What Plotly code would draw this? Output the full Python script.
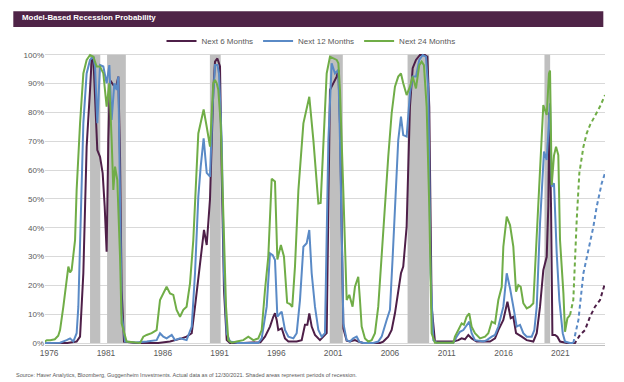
import plotly.graph_objects as go

# ---------------- DATA ----------------
rec_start = [1980.0, 1981.5, 1990.55, 2001.1, 2007.95, 2020.0]
rec_end = [1980.9, 1983.15, 1991.5, 2002.25, 2009.85, 2020.5]

tick_years = [1976, 1981, 1986, 1991, 1996, 2001, 2006, 2011, 2016, 2021]
y_ticks = [0, 10, 20, 30, 40, 50, 60, 70, 80, 90, 100]

m6_x = [1976.0, 1977.0, 1978.0, 1978.82, 1979.12, 1979.41, 1979.70, 1980.00, 1980.14, 1980.29,
        1980.44, 1980.64, 1980.88, 1981.11, 1981.29, 1981.46, 1981.61, 1981.76, 1982.05, 1982.29,
        1982.49, 1982.64, 1982.78, 1982.99, 1984.0, 1985.0, 1986.0, 1987.04, 1987.62, 1988.06,
        1988.50, 1988.95, 1989.24, 1989.53, 1989.83, 1990.03, 1990.27, 1990.56, 1990.85, 1991.00,
        1991.21, 1991.44, 1991.59, 1991.79, 1992.03, 1992.32, 1993.5, 1995.0, 1995.40, 1995.84,
        1996.13, 1996.28, 1996.43, 1996.57, 1996.87, 1997.16, 1997.46, 1998.19, 1998.63, 1998.92,
        1999.13, 1999.30, 1999.51, 1999.80, 2000.24, 2000.83, 2001.12, 2001.42, 2001.71, 2001.86,
        2002.00, 2002.30, 2002.59, 2002.88, 2003.32, 2003.61, 2004.05, 2005.52, 2005.81, 2006.25,
        2006.55, 2006.84, 2007.13, 2007.37, 2007.57, 2007.87, 2008.16, 2008.40, 2008.69, 2009.04,
        2009.48, 2009.69, 2009.86, 2010.07, 2010.36, 2011.98, 2012.42, 2012.71, 2013.00, 2013.30,
        2013.59, 2014.03, 2015.21, 2015.65, 2015.94, 2016.38, 2016.74, 2017.03, 2017.26, 2017.50,
        2018.00, 2018.44, 2019.02, 2019.32, 2019.61, 2019.90, 2020.20, 2020.34, 2020.43, 2020.58,
        2020.70, 2020.93, 2021.14, 2021.37, 2021.96, 2022.54]
m6_y = [0, 0, 0, 0.5, 2.2, 24.2, 68.1, 87.8, 98.2, 99.3,
        85.4, 66.9, 64.6, 58.9, 47.3, 31.7, 70.4, 91.2, 89.5, 88.9,
        92.4, 64.6, 18.4, 0.5, 0, 0, 0, 0.5, 1.0, 1.6,
        2.2, 3.4, 12.6, 21.9, 31.1, 39.2, 34.0, 50.0, 87.8, 97.6,
        98.7, 95.9, 58.9, 18.4, 1.0, 0, 0, 0.3, 2.2, 5.7,
        9.1, 10.3, 8.0, 4.5, 5.1, 1.6, 0.5, 0.5, 1.0, 6.3,
        6.3, 10.3, 5.7, 2.8, 1.0, 3.4, 87.8, 90.1, 92.4, 94.7,
        76.2, 5.0, 0.8, 0.5, 1.0, 0.5, 0, 0, 0.5, 2.2,
        4.5, 10.3, 18.4, 24.2, 26.5, 40.4, 82.0, 95.3, 98.2, 99.9,
        99.9, 99.3, 82.0, 12.6, 0.5, 0.5, 1.0, 1.6, 1.3, 2.8,
        1.6, 0.5, 0.5, 1.6, 4.5, 8.0, 14.3, 8.6, 9.1, 3.4,
        2.2, 1.0, 0.5, 3.4, 12.6, 25.3, 29.9, 47.3, 80.0, 47.3,
        2.8, 2.8, 2.2, 0.5, 0, 0]
m6_fc_x = [2022.54, 2022.69, 2023.13, 2023.57, 2024.01, 2024.45, 2024.89, 2025.33]
m6_fc_y = [0, 0, 2.8, 4.5, 9.1, 12.6, 14.9, 20.7]

m12_x = [1976.0, 1977.0, 1977.36, 1977.94, 1978.24, 1978.53, 1978.82, 1978.97, 1979.12, 1979.41,
         1979.70, 1980.00, 1980.29, 1980.44, 1980.64, 1980.88, 1981.17, 1981.46, 1981.70, 1981.90,
         1982.14, 1982.34, 1982.49, 1982.64, 1982.78, 1983.08, 1984.0, 1985.0, 1985.86, 1986.16,
         1986.45, 1986.74, 1987.19, 1987.48, 1987.92, 1988.50, 1988.95, 1989.24, 1989.53, 1989.74,
         1990.00, 1990.27, 1990.56, 1990.79, 1991.00, 1991.21, 1991.35, 1991.59, 1991.79, 1992.03,
         1992.32, 1993.0, 1994.8, 1995.11, 1995.55, 1995.84, 1996.08, 1996.28, 1996.49, 1996.72,
         1996.87, 1997.16, 1997.46, 1997.90, 1998.19, 1998.48, 1998.78, 1999.07, 1999.30, 1999.51,
         1999.80, 2000.10, 2000.39, 2000.68, 2000.98, 2001.27, 2001.56, 2001.86, 2002.00, 2002.30,
         2002.59, 2002.88, 2003.17, 2003.47, 2003.70, 2004.05, 2004.93, 2005.37, 2005.67, 2006.11,
         2006.40, 2006.64, 2006.93, 2007.13, 2007.37, 2007.57, 2007.87, 2008.16, 2008.40, 2008.69,
         2008.98, 2009.28, 2009.57, 2009.78, 2009.98, 2010.22, 2010.51, 2011.98, 2012.27, 2012.56,
         2012.86, 2013.15, 2013.38, 2013.59, 2013.88, 2014.62, 2014.92, 2015.36, 2015.65, 2015.94,
         2016.38, 2016.68, 2016.97, 2017.26, 2017.56, 2017.85, 2018.14, 2018.44, 2018.88, 2019.11,
         2019.32, 2019.61, 2019.96, 2020.20, 2020.49, 2020.64, 2020.84, 2021.08, 2021.31, 2021.61,
         2021.81, 2022.25, 2022.54]
m12_y = [0, 0, 0.1, 1.0, 1.6, 0.5, 3.4, 12.6, 35.7, 76.2,
         93.5, 98.2, 99.3, 95.9, 76.2, 96.4, 95.9, 90.1, 96.4, 77.4,
         90.1, 87.8, 92.4, 53.1, 10.3, 0.5, 0.2, 0.5, 1.0, 3.4,
         2.2, 1.6, 2.8, 1.0, 1.6, 1.0, 5.7, 24.2, 50.7, 61.2,
         71.0, 59.0, 57.7, 82.0, 96.4, 96.4, 93.5, 70.4, 24.2, 3.4,
         0.5, 0, 0, 1.6, 12.6, 31.1, 30.5, 28.8, 9.1, 10.3,
         10.9, 4.5, 2.2, 1.6, 3.4, 14.9, 33.4, 34.6, 39.2, 24.2,
         12.6, 4.5, 2.2, 3.4, 70.4, 97.0, 93.5, 94.7, 70.4, 6.8,
         1.0, 0.5, 1.6, 2.2, 0.5, 0, 0, 0.5, 2.2, 8.0,
         11.5, 29.9, 53.1, 70.4, 78.5, 72.1, 71.6, 86.6, 92.4, 92.4,
         98.2, 99.9, 99.3, 87.8, 24.2, 1.0, 0.1, 0.1, 2.2, 3.9,
         4.5, 6.3, 7.4, 3.4, 1.0, 0.5, 1.0, 2.2, 2.8, 5.7,
         12.6, 24.2, 19.0, 12.6, 5.7, 6.3, 3.4, 2.2, 2.2, 4.5,
         12.6, 41.5, 66.4, 63.5, 83.1, 54.2, 55.4, 31.1, 14.9, 3.4,
         0.5, 0, 0]
m12_fc_x = [2022.54, 2022.99, 2023.43, 2023.87, 2024.31, 2024.60, 2025.04, 2025.33]
m12_fc_y = [0, 8.0, 24.2, 32.3, 40.4, 47.3, 55.4, 58.9]

m24_x = [1976.0, 1976.2, 1976.5, 1976.9, 1977.2, 1977.36, 1977.65, 1977.85, 1978.09, 1978.24,
         1978.38, 1978.68, 1978.82, 1979.12, 1979.41, 1979.70, 1980.00, 1980.29, 1980.58, 1980.88,
         1981.17, 1981.46, 1981.70, 1981.90, 1982.05, 1982.20, 1982.40, 1982.64, 1982.78, 1983.22,
         1984.40, 1984.69, 1984.98, 1985.42, 1985.86, 1986.16, 1986.45, 1986.74, 1987.04, 1987.33,
         1987.62, 1987.92, 1988.21, 1988.50, 1988.80, 1989.09, 1989.53, 1990.00, 1990.27, 1990.56,
         1990.85, 1991.00, 1991.15, 1991.29, 1991.50, 1991.73, 1991.97, 1992.17, 1992.47, 1992.91,
         1993.49, 1993.93, 1994.37, 1994.81, 1995.11, 1995.40, 1995.69, 1995.99, 1996.28, 1996.49,
         1996.80, 1997.07, 1997.35, 1997.60, 1997.80, 1998.04, 1998.34, 1998.78, 1999.07, 1999.30,
         1999.66, 1999.95, 2000.10, 2000.30, 2000.54, 2000.83, 2001.12, 2001.42, 2001.71, 2001.86,
         2002.00, 2002.30, 2002.59, 2002.82, 2003.11, 2003.32, 2003.61, 2003.76, 2003.91, 2004.20,
         2004.49, 2004.79, 2005.08, 2005.37, 2005.67, 2005.96, 2006.25, 2006.55, 2006.84, 2007.13,
         2007.37, 2007.57, 2007.87, 2008.16, 2008.40, 2008.69, 2008.98, 2009.19, 2009.39, 2009.63,
         2009.86, 2010.07, 2010.36, 2011.98, 2012.12, 2012.42, 2012.71, 2012.91, 2013.15, 2013.38,
         2013.59, 2013.88, 2014.33, 2014.77, 2015.06, 2015.36, 2015.65, 2015.94, 2016.24, 2016.38,
         2016.68, 2016.97, 2017.26, 2017.50, 2017.70, 2017.91, 2018.14, 2018.44, 2018.73, 2019.02,
         2019.32, 2019.61, 2019.90, 2020.20, 2020.40, 2020.49, 2020.64, 2020.84, 2021.02, 2021.22,
         2021.37, 2021.67, 2021.81, 2022.02, 2022.25]
m24_y = [0.5, 1.0, 1.0, 1.3, 2.5, 4.5, 12.6, 20.0, 26.5, 24.5,
         25.3, 35.7, 53.1, 76.2, 93.5, 98.2, 99.9, 99.3, 95.9, 95.9,
         93.5, 82.0, 90.1, 70.4, 53.1, 61.2, 56.5, 29.9, 6.8, 0.5,
         0, 2.2, 2.8, 3.4, 4.5, 14.9, 17.2, 19.5, 17.2, 16.7,
         11.5, 9.1, 11.5, 12.6, 20.7, 35.7, 72.7, 81.0, 75.0, 68.1,
         90.1, 91.2, 90.1, 87.8, 76.2, 47.3, 12.6, 1.0, 0.1, 0.5,
         1.0, 2.2, 1.0, 1.6, 4.5, 18.4, 29.9, 57.0, 56.0, 29.0,
         34.0, 30.0, 14.0, 13.5, 12.5, 26.5, 53.0, 76.2, 81.7, 85.4,
         70.4, 56.5, 48.4, 48.6, 70.4, 93.5, 99.3, 98.7, 98.2, 97.0,
         87.8, 52.0, 14.9, 16.7, 12.6, 19.5, 23.0, 14.9, 5.7, 1.6,
         0.5, 1.0, 3.4, 12.6, 29.9, 49.6, 64.6, 79.7, 88.9, 92.4,
         93.5, 90.1, 86.0, 88.9, 92.4, 88.3, 96.4, 97.6, 96.4, 82.0,
         47.3, 3.4, 0.1, 0.1, 2.2, 4.5, 6.8, 6.3, 9.1, 10.3,
         5.7, 3.4, 1.6, 2.2, 3.4, 7.4, 6.8, 14.9, 19.5, 33.4,
         43.8, 40.9, 33.4, 17.8, 20.1, 19.5, 13.8, 12.0, 12.6, 13.8,
         35.7, 58.9, 82.5, 79.1, 93.5, 94.5, 54.8, 65.0, 68.1, 65.2,
         35.7, 17.2, 3.9, 8.6, 9.7]
m24_fc_x = [2022.25, 2022.54, 2022.84, 2023.07, 2023.43, 2023.72, 2024.01, 2024.31, 2024.60, 2024.89, 2025.33]
m24_fc_y = [9.7, 14.9, 42.7, 58.9, 68.1, 72.7, 75.6, 77.9, 79.7, 82.0, 86.0]

# ---------------- STYLE ----------------
FONT = "Arial, 'Liberation Sans', sans-serif"
C6 = "#4E1F48"
C12 = "#5A8AC6"
C24 = "#70AD47"
TXT = "#595959"

fig = go.Figure()

series = [
    ("Next 6 Months", m6_x, m6_y, m6_fc_x, m6_fc_y, C6),
    ("Next 12 Months", m12_x, m12_y, m12_fc_x, m12_fc_y, C12),
    ("Next 24 Months", m24_x, m24_y, m24_fc_x, m24_fc_y, C24),
]
for name, x, y, fx, fy, col in series:
    fig.add_trace(go.Scatter(x=x, y=y, mode="lines", name=name,
                             line=dict(color=col, width=2)))
for name, x, y, fx, fy, col in series:
    fig.add_trace(go.Scatter(x=fx, y=fy, mode="lines", name=name + " (forecast)",
                             showlegend=False,
                             line=dict(color=col, width=2, dash="4px,3px")))

shapes = []
for s, e in zip(rec_start, rec_end):
    shapes.append(dict(type="rect", xref="x", yref="y", x0=s, x1=e, y0=0, y1=100,
                       fillcolor="#BFBFBF", line=dict(width=0), layer="between"))
# title bar
shapes.append(dict(type="rect", xref="paper", yref="paper", x0=-0.0566, x1=0.997,
                   y0=1.089, y1=1.1427, fillcolor="#4F2447", line=dict(width=0)))

fig.update_layout(
    width=624, height=382,
    margin=dict(l=45, r=19, t=53, b=37, autoexpand=False),
    paper_bgcolor="white", plot_bgcolor="white",
    font=dict(family=FONT, size=8, color=TXT),
    shapes=shapes,
    showlegend=True,
    legend=dict(orientation="h", x=0.475, xanchor="center", y=1.041, yanchor="middle",
                font=dict(size=8, color=TXT), bgcolor="rgba(0,0,0,0)",
                traceorder="normal", itemwidth=30),
    annotations=[
        dict(text="<b>Model-Based Recession Probability</b>", xref="paper", yref="paper",
             x=-0.0446, y=1.12, xanchor="left", yanchor="middle", showarrow=False,
             font=dict(family=FONT, size=7.9, color="white")),
        dict(text="Source: Haver Analytics, Bloomberg, Guggenheim Investments. Actual data as of 12/30/2021. Shaded areas represent periods of recession.",
             xref="paper", yref="paper", x=-0.0554, y=-0.1026, xanchor="left", yanchor="middle",
             showarrow=False, font=dict(family=FONT, size=5.5, color=TXT)),
    ],
)
fig.update_xaxes(range=[1976.035, 2025.33], showgrid=False, zeroline=False,
                 tickvals=[t + 0.4 for t in tick_years], ticktext=[str(t) for t in tick_years],
                 ticks="", showline=True, linecolor="#BFBFBF", linewidth=1,
                 tickfont=dict(size=8.4, color=TXT))
fig.update_yaxes(range=[-0.69, 100.59], tickvals=y_ticks, ticktext=[f"{v}%" for v in y_ticks],
                 showgrid=True, gridcolor="#D9D9D9", gridwidth=1, zeroline=False,
                 ticks="", showline=False, tickfont=dict(size=8, color=TXT))

fig.write_html("out.html", config={"displayModeBar": False},
               post_script="document.body.style.margin='0';document.body.style.padding='0';")
